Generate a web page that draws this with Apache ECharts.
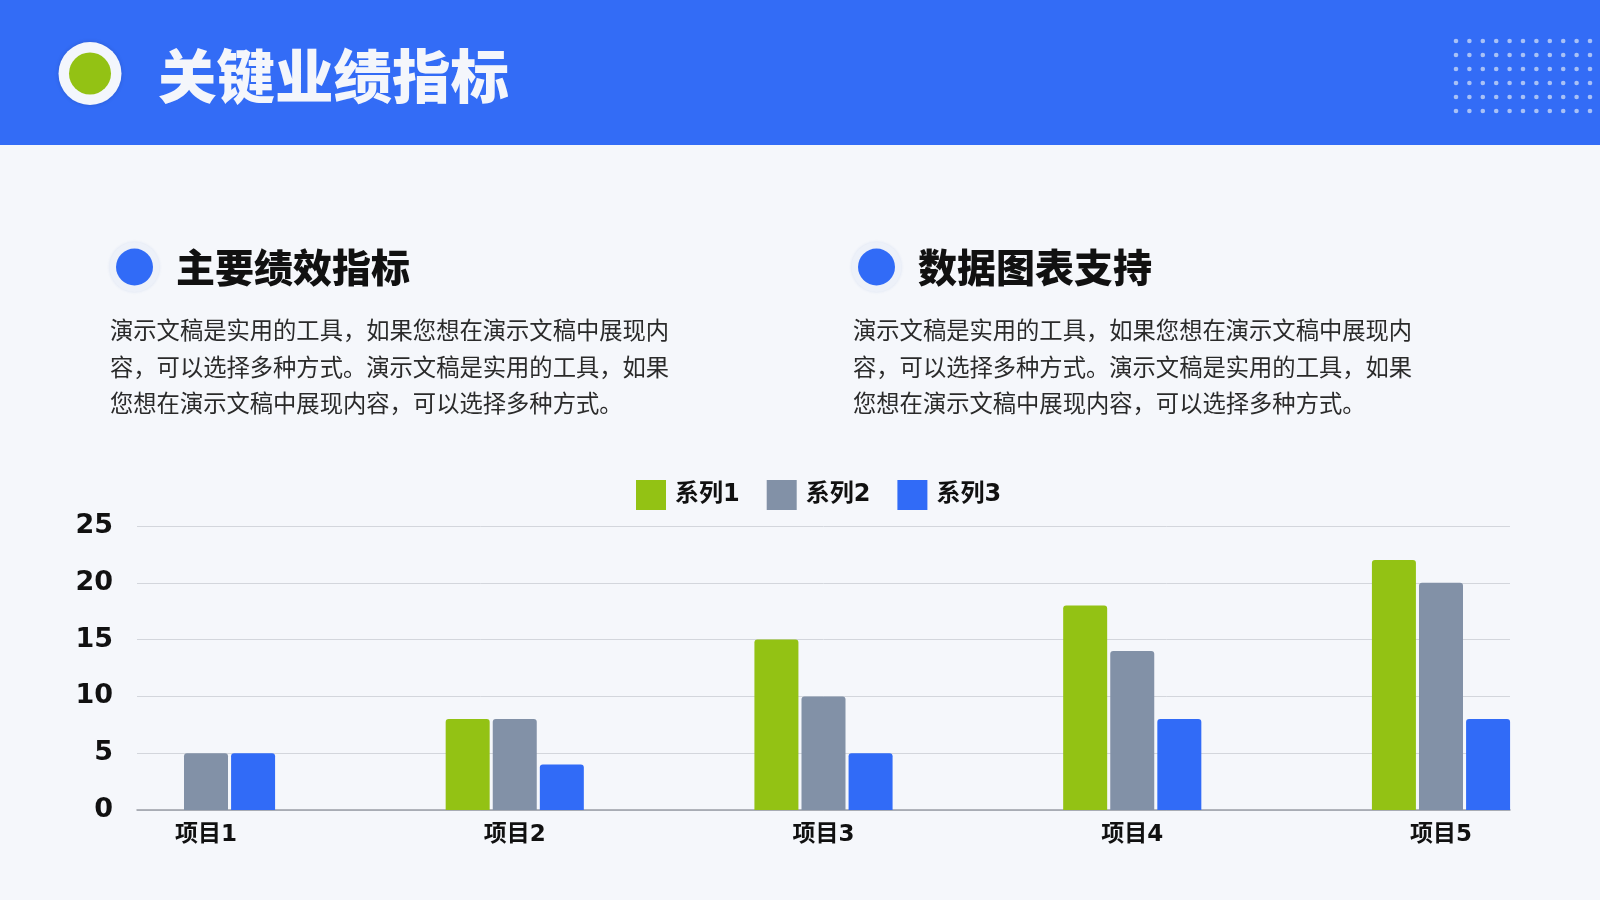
<!DOCTYPE html>
<html>
<head>
<meta charset="utf-8">
<script src="https://cdn.jsdelivr.net/npm/echarts@6/dist/echarts.min.js"></script>
<style>
html,body{margin:0;padding:0;background:#f5f7fb;}
#c{width:1600px;height:900px;}
</style>
</head>
<body>
<div id="c"></div>
<script>
var categories = ['项目1', '项目2', '项目3', '项目4', '项目5'];
var seriesNames = ['系列1', '系列2', '系列3'];
var series1 = [0, 8, 15, 18, 22];
var series2 = [5, 8, 10, 14, 20];
var series3 = [5, 4, 5, 8, 8];
var yTicks = [0, 5, 10, 15, 20, 25];

var pageTitle = '关键业绩指标';
var heading1 = '主要绩效指标';
var heading2 = '数据图表支持';
var bodyLines = [
  '演示文稿是实用的工具，如果您想在演示文稿中展现内',
  '容，可以选择多种方式。演示文稿是实用的工具，如果',
  '您想在演示文稿中展现内容，可以选择多种方式。'
];

var colors = ['#93c214', '#8291a7', '#316bf7'];
var cjk = '"Noto Sans CJK SC", "Noto Sans", sans-serif';

var chart = echarts.init(document.getElementById('c'), null, {renderer: 'canvas'});

var graphics = [];
graphics.push({type: 'rect', shape: {x: 0, y: 0, width: 1600, height: 145}, style: {fill: '#336cf6'}, z: 0});
// dot pattern
for (var r = 0; r < 6; r++) {
  for (var c = 0; c < 11; c++) {
    graphics.push({type: 'circle', shape: {cx: 1456 + c * 13.4, cy: 41 + r * 14, r: 2.3}, style: {fill: '#a9c1f6'}, z: 1});
  }
}
graphics.push({type: 'circle', shape: {cx: 90, cy: 73.5, r: 31.5}, style: {fill: '#f3f6fc', shadowBlur: 4, shadowColor: 'rgba(0,0,0,0.15)'}, z: 2});
graphics.push({type: 'circle', shape: {cx: 90, cy: 73.5, r: 21}, style: {fill: '#93c214'}, z: 3});
graphics.push({type: 'text', x: 158, y: 76, style: {text: pageTitle, fill: '#f4f6fb', font: '900 58.5px ' + cjk, textVerticalAlign: 'middle'}, z: 3});

function section(cx) {
  graphics.push({type: 'circle', shape: {cx: cx, cy: 267, r: 25}, style: {fill: '#edf1f9', shadowBlur: 3, shadowColor: 'rgba(50,90,180,0.12)'}, z: 2});
  graphics.push({type: 'circle', shape: {cx: cx, cy: 267, r: 18.5}, style: {fill: '#316bf7'}, z: 3});
}
section(134.5);
section(876.5);
graphics.push({type: 'text', x: 176, y: 267, style: {text: heading1, fill: '#111111', font: '900 39px ' + cjk, textVerticalAlign: 'middle'}, z: 3});
graphics.push({type: 'text', x: 918, y: 267, style: {text: heading2, fill: '#111111', font: '900 39px ' + cjk, textVerticalAlign: 'middle'}, z: 3});
for (var i = 0; i < bodyLines.length; i++) {
  graphics.push({type: 'text', x: 110, y: 330 + i * 36.7, style: {text: bodyLines[i], fill: '#2a2a2a', font: '400 23.3px ' + cjk, textVerticalAlign: 'middle'}, z: 3});
  graphics.push({type: 'text', x: 853, y: 330 + i * 36.7, style: {text: bodyLines[i], fill: '#2a2a2a', font: '400 23.3px ' + cjk, textVerticalAlign: 'middle'}, z: 3});
}

function barSeries(name, data, color) {
  return {
    name: name, type: 'bar', data: data,
    xAxisIndex: 1, yAxisIndex: 1,
    barWidth: 44, barGap: '7%',
    clip: false,
    itemStyle: {color: color, borderRadius: [3, 3, 0, 0]}
  };
}

var option = {
  backgroundColor: '#f5f7fb',
  animation: false,
  color: colors,
  graphic: graphics,
  legend: {
    left: 631, top: 475,
    itemWidth: 30, itemHeight: 30, itemGap: 27,
    icon: 'rect',
    data: seriesNames,
    textStyle: {fontSize: 24, fontWeight: 'bold', color: '#111', fontFamily: '"DejaVu Sans", ' + cjk, padding: [0, 0, 0, 4]}
  },
  grid: [
    {left: 137, right: 90, top: 526, bottom: 90},
    {left: 206, right: 159, top: 526, bottom: 90}
  ],
  xAxis: [
    {type: 'category', gridIndex: 0, data: categories,
      axisLine: {show: true, lineStyle: {color: '#9a9ea6', width: 1.5}},
      axisTick: {show: false}, axisLabel: {show: false}, splitLine: {show: false}},
    {type: 'category', gridIndex: 1, data: categories, boundaryGap: false,
      axisLine: {show: false}, axisTick: {show: false}, splitLine: {show: false},
      axisLabel: {margin: 14, fontSize: 23, fontWeight: 'bold', color: '#111', fontFamily: '"DejaVu Sans", ' + cjk}}
  ],
  yAxis: [
    {type: 'value', gridIndex: 0, min: 0, max: 25, interval: 5,
      axisLine: {show: false}, axisTick: {show: false},
      splitLine: {lineStyle: {color: '#d3d6dc', width: 1}},
      axisLabel: {margin: 24, fontSize: 27, fontWeight: 'bold', color: '#111', fontFamily: '"DejaVu Sans", sans-serif'}},
    {type: 'value', gridIndex: 1, min: 0, max: 25, interval: 5, show: false}
  ],
  series: [
    barSeries(seriesNames[0], series1, colors[0]),
    barSeries(seriesNames[1], series2, colors[1]),
    barSeries(seriesNames[2], series3, colors[2])
  ]
};
chart.setOption(option);
</script>
</body>
</html>
